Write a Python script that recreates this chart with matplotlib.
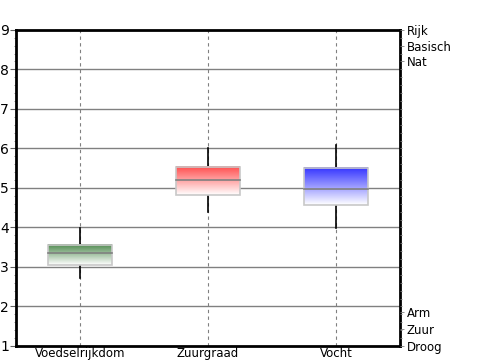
import numpy as np
import matplotlib.pyplot as plt
from matplotlib.colors import LinearSegmentedColormap
from matplotlib.patches import Rectangle

categories = ['Voedselrijkdom', 'Zuurgraad', 'Vocht']
whisker_low = [2.72, 4.38, 3.98]
box_low = [3.05, 4.82, 4.57]
median = [3.35, 5.2, 4.97]
box_high = [3.56, 5.54, 5.51]
whisker_high = [3.98, 6.0, 6.08]
colors = ['#4e8a4e', '#ff4d4d', '#3333ff']

top_labels = ['Rijk', 'Basisch', 'Nat']
bottom_labels = ['Arm', 'Zuur', 'Droog']

fig = plt.figure(figsize=(5, 3.6), dpi=100)
ax = fig.add_axes([0.032, 0.039, 0.768, 0.878])

for y in range(2, 9):
    ax.axhline(y, color='#808080', linewidth=1, zorder=1)

for i in range(3):
    x = i + 0.5
    ax.axvline(x, color='#808080', linewidth=0.8, linestyle=(0, (3, 3)), zorder=1)
    ax.plot([x, x], [whisker_low[i], whisker_high[i]], color='black', linewidth=1.2, zorder=2)
    w = 0.5
    cmap = LinearSegmentedColormap.from_list('g', ['white', colors[i]])
    grad = np.linspace(0, 1, 100).reshape(-1, 1)
    ax.imshow(grad, cmap=cmap, aspect='auto', origin='lower',
              extent=[x - w / 2, x + w / 2, box_low[i], box_high[i]], zorder=3)
    ax.add_patch(Rectangle((x - w / 2, box_low[i]), w, box_high[i] - box_low[i],
                           fill=False, edgecolor='#c8c8c8', linewidth=1.2, zorder=4))
    ax.plot([x - w / 2, x + w / 2], [median[i], median[i]], color='#808080', linewidth=1.2, zorder=5)

ax.set_xlim(0, 3)
ax.set_ylim(1, 9)
ax.set_xticks([0.5, 1.5, 2.5])
ax.set_xticklabels(categories, fontsize=8.5)
ax.tick_params(axis='x', length=0, pad=1)
ax.set_yticks(range(1, 10))
ax.set_yticks(np.arange(1, 9.01, 0.2), minor=True)
ax.tick_params(axis='y', which='major', length=4, width=0.8, color='#606060', labelsize=10, pad=1)
ax.tick_params(axis='y', which='minor', length=1.5, width=0.6, color='#808080')

for s in ax.spines.values():
    s.set_linewidth(2)
    s.set_color('black')

ax2 = ax.twinx()
ax2.set_ylim(1, 9)
ax2.set_yticks([9, 8.6, 8.2, 1.86, 1.44, 1.0])
ax2.set_yticklabels(top_labels + bottom_labels, fontsize=8.5)
ax2.set_yticks(np.arange(1, 9.01, 0.2), minor=True)
ax2.tick_params(axis='y', which='major', length=3, width=0.6, color='#808080', pad=2)
ax2.tick_params(axis='y', which='minor', length=1.5, width=0.6, color='#808080')
for s in ax2.spines.values():
    s.set_visible(False)

fig.savefig('out.png', dpi=100)
